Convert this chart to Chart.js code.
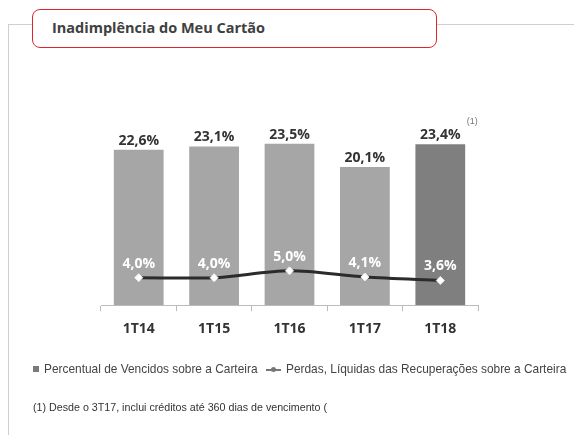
<!DOCTYPE html>
<html>
<head>
<meta charset="utf-8">
<script src="https://cdn.jsdelivr.net/npm/chart.js@4.4.1/dist/chart.umd.min.js"></script>
<style>
  html, body { margin: 0; padding: 0; background: #fff; width: 574px; height: 435px; overflow: hidden; }
  #frame { position: absolute; left: 8px; top: 24px; width: 600px; height: 500px;
           border-left: 1px solid #cfcfcf; border-top: 1px solid #cfcfcf; }
  #chart { position: absolute; left: 0; top: 0; }
  #title { position: absolute; left: 32px; top: 9px; width: 405px; height: 39px; box-sizing: border-box;
           border: 1.5px solid #e3232c; border-radius: 8px; background: #fff; }
  #title span { position: absolute; left: 19px; top: 8px; font: bold 14.5px "Open Sans", sans-serif; color: #404040; }
  .legend { position: absolute; top: 362px; font: 11.9px "Liberation Sans", sans-serif; color: #444; white-space: nowrap; }
  .sq { display: inline-block; width: 6px; height: 6px; background: #7a7a7a; margin-right: 5px; vertical-align: 1px; }
  .ln { display: inline-block; position: relative; width: 15px; height: 8px; margin-right: 5px; vertical-align: -1px; }
  .ln:before { content: ""; position: absolute; left: 0; right: 0; top: 3px; height: 2px; background: #777; }
  .ln:after { content: ""; position: absolute; left: 5px; top: 1px; width: 5px; height: 5px; border-radius: 50%; background: #777; }
  #note { position: absolute; left: 33px; top: 401px; width: 297px; overflow: hidden; white-space: nowrap;
          font: 10.7px "Liberation Sans", sans-serif; color: #333; }
</style>
</head>
<body>
<div id="frame"></div>
<canvas id="chart" width="574" height="435"></canvas>
<div id="title"><span>Inadimplência do Meu Cartão</span></div>
<div class="legend" style="left:33px"><span class="sq"></span>Percentual de Vencidos sobre a Carteira</div>
<div class="legend" style="left:266px"><span class="ln"></span>Perdas, Líquidas das Recuperações sobre a Carteira</div>
<div id="note">(1) Desde o 3T17, inclui créditos até 360 dias de vencimento (</div>

<script>
  "use strict";

  var quarters = ["1T14", "1T15", "1T16", "1T17", "1T18"];
  var vencidos = [22.6, 23.1, 23.5, 20.1, 23.4];
  var perdas = [4.0, 4.0, 5.0, 4.1, 3.6];
  var barColors = ["#a6a6a6", "#a6a6a6", "#a6a6a6", "#a6a6a6", "#7f7f7f"];

  function fmt(v) { return v.toFixed(1).replace(".", ",") + "%"; }

  // value labels above bars and points, plus the (1) mark on the last bar
  var valueLabels = {
    id: "valueLabels",
    afterDatasetsDraw: function (chart) {
      var ctx = chart.ctx;
      ctx.save();
      ctx.font = "bold 14px 'Open Sans', sans-serif";
      ctx.textAlign = "center";
      ctx.textBaseline = "bottom";

      var bars = chart.getDatasetMeta(1).data;
      bars.forEach(function (el, i) {
        ctx.fillStyle = "#333";
        ctx.fillText(fmt(vencidos[i]), el.x, el.y - 2);
      });

      var pts = chart.getDatasetMeta(0).data;
      pts.forEach(function (el, i) {
        ctx.fillStyle = "#fff";
        ctx.fillText(fmt(perdas[i]), el.x, el.y - 7);
      });

      var last = bars[bars.length - 1];
      ctx.font = "9px 'Liberation Sans', sans-serif";
      ctx.fillStyle = "#777";
      ctx.fillText("(1)", last.x + 32, last.y - 18);
      ctx.restore();
    }
  };

  new Chart(document.getElementById("chart"), {
    type: "bar",
    data: {
      labels: quarters,
      datasets: [{
        type: "line",
        data: perdas,
        order: 0,
        borderColor: "#2b2b2b",
        borderWidth: 3,
        tension: 0.3,
        pointStyle: "rectRot",
        pointRadius: 4,
        pointBackgroundColor: "#fff",
        pointBorderColor: "#eee",
        pointBorderWidth: 1,
      }, {
        data: vencidos,
        order: 1,
        backgroundColor: barColors,
        categoryPercentage: 1,
        barPercentage: 0.66,
      }],
    },
    options: {
      responsive: false,
      animation: false,
      layout: { padding: { left: 101, right: 96, top: 99, bottom: 89 } },
      plugins: { legend: { display: false }, tooltip: { enabled: false } },
      scales: {
        x: {
          grid: { drawOnChartArea: false, tickLength: 6, color: "#bbb" },
          border: { color: "#bbb" },
          ticks: { padding: 9, color: "#333", font: { family: "'Open Sans', sans-serif", size: 14, weight: "bold" } },
        },
        y: { display: false, min: 0, max: 30 },
      },
    },
    plugins: [valueLabels],
  });
</script>
</body>
</html>
